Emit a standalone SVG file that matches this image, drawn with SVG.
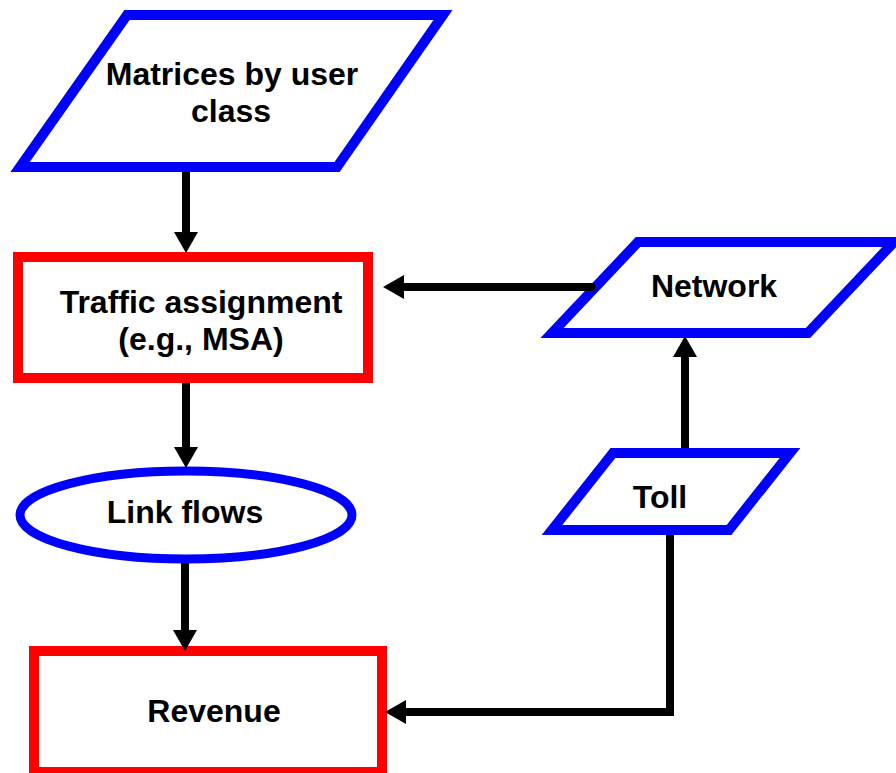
<svg xmlns="http://www.w3.org/2000/svg" width="896" height="773" viewBox="0 0 896 773">
<style>
.blue{fill:#fff;stroke:#0000FF;stroke-width:10;stroke-linejoin:miter}
.red{fill:#fff;stroke:#FF0000;stroke-width:10}
.lbl{font-family:"Liberation Sans",Arial,sans-serif;font-weight:bold;font-size:32px;fill:#000;text-anchor:middle}
.con{fill:none;stroke:#000;stroke-width:8}
</style>
<defs>
<marker id="ah" markerUnits="userSpaceOnUse" markerWidth="22" markerHeight="24" refX="0" refY="12" orient="auto" overflow="visible">
<path d="M0,0 L21,12 L0,24 Z" fill="#000"/>
</marker>
</defs>
<rect width="896" height="773" fill="#fff"/>
<g id="matrices">
<polygon class="blue" points="127,15 443,15 337,167 20,167"/>
<text class="lbl" x="232" y="85">Matrices by user</text>
<text class="lbl" x="231" y="122">class</text>
</g>
<g id="traffic">
<rect class="red" x="18" y="257" width="350" height="121"/>
<text class="lbl" x="201" y="313">Traffic assignment</text>
<text class="lbl" x="201" y="350">(e.g., MSA)</text>
</g>
<g id="linkflows">
<ellipse cx="186" cy="515" rx="166" ry="44" fill="#fff" stroke="#0000FF" stroke-width="9"/>
<text class="lbl" x="185" y="523">Link flows</text>
</g>
<g id="revenue">
<rect class="red" x="34" y="651" width="348" height="121"/>
<text class="lbl" x="214" y="722">Revenue</text>
</g>
<g id="network">
<polygon class="blue" points="638,242 894,242 808,333 552,333"/>
<text class="lbl" x="714" y="297">Network</text>
</g>
<g id="toll">
<polygon class="blue" points="613,453 790,453 729,530 552,530"/>
<text class="lbl" x="660" y="508">Toll</text>
</g>
<g id="connectors">
<path class="con" d="M186,172 V232" marker-end="url(#ah)"/>
<path class="con" d="M186,383 V447" marker-end="url(#ah)"/>
<path class="con" d="M185,563 V630" marker-end="url(#ah)"/>
<path class="con" d="M595,287 H404" marker-end="url(#ah)"/>
<path class="con" d="M685,448 V357" marker-end="url(#ah)"/>
<path class="con" d="M670,535 V712 H406" marker-end="url(#ah)"/>
</g>
</svg>
